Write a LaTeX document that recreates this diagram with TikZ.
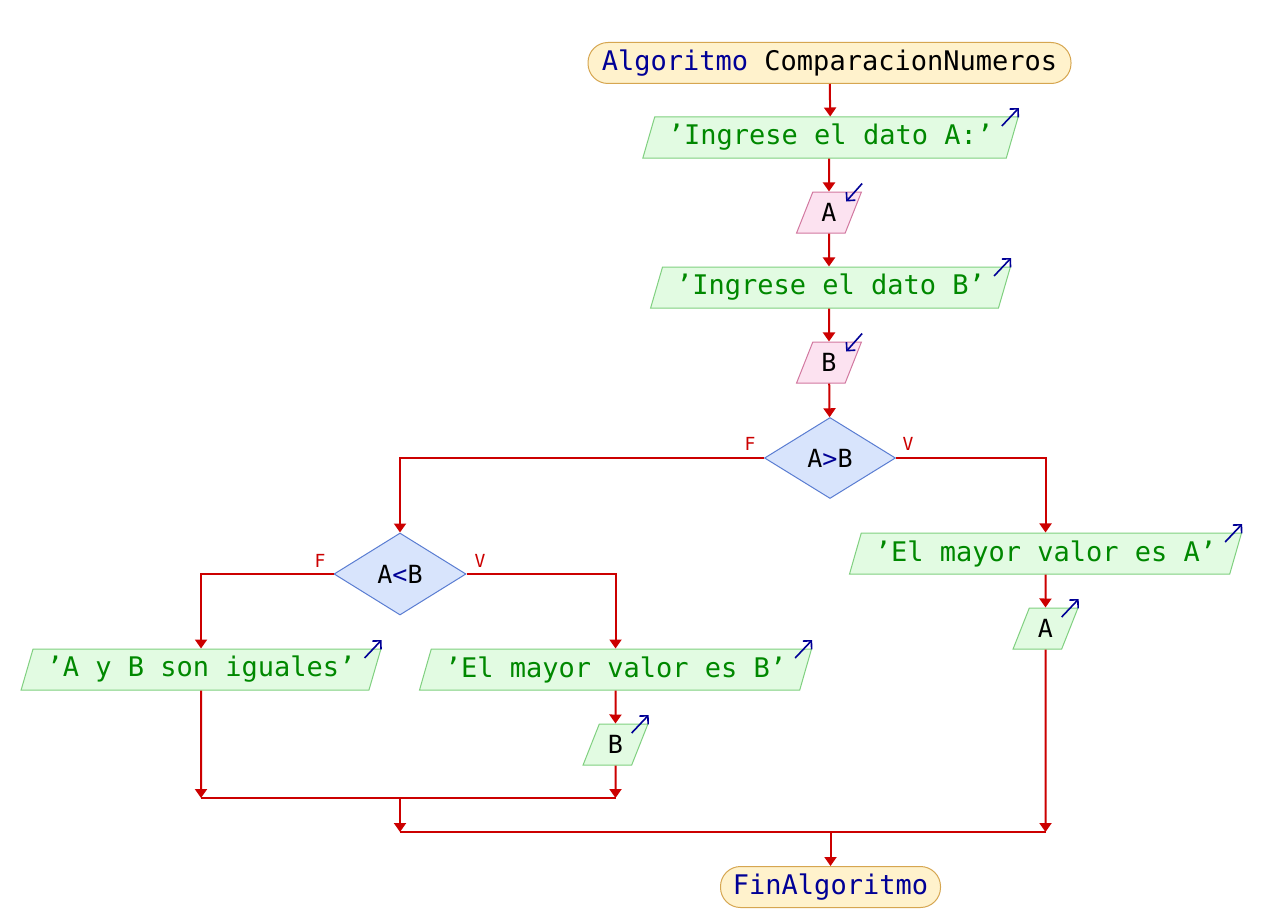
\documentclass[tikz,border=0pt]{standalone}
\usepackage{fontspec}
\newfontfamily\pfont{DejaVu Sans Mono}
\usetikzlibrary{shapes.geometric,arrows.meta}
\definecolor{lred}{RGB}{204,0,0}
\definecolor{kw}{RGB}{0,0,150}
\definecolor{strT}{RGB}{0,136,0}
\definecolor{termF}{RGB}{255,242,204}
\definecolor{termB}{RGB}{214,166,80}
\definecolor{outF}{RGB}{226,251,226}
\definecolor{outB}{RGB}{128,208,128}
\definecolor{inF}{RGB}{252,226,240}
\definecolor{inB}{RGB}{210,120,160}
\definecolor{decF}{RGB}{216,228,252}
\definecolor{decB}{RGB}{90,125,210}
\begin{document}
\begin{tikzpicture}[x=1pt,y=-1pt,
  txt/.style={font=\pfont\fontsize{27}{32}\selectfont},
  vtxt/.style={font=\pfont\fontsize{25}{30}\selectfont},
  flow/.style={draw=lred, line width=2pt, -{Triangle[width=12pt,length=9pt]}},
  plain/.style={draw=lred, line width=2pt},
  term/.style={txt, draw=termB, fill=termF, rounded corners=20pt, minimum height=41pt, inner sep=0pt, line width=1pt},
  para/.style={trapezium, trapezium left angle=67.5, trapezium right angle=112.5, trapezium stretches=true, minimum height=41pt, inner sep=0pt, line width=1pt},
  outbox/.style={para, txt, draw=outB, fill=outF, text=strT},
  outvar/.style={para, vtxt, draw=outB, fill=outF, minimum width=65pt},
  invar/.style={para, vtxt, draw=inB, fill=inF, minimum width=65pt},
  dec/.style={diamond, vtxt, draw=decB, fill=decF, minimum width=131pt, minimum height=81pt, inner sep=0pt, line width=1pt},
  ind/.style={draw=kw, line width=1.6pt, -{Straight Barb[length=6pt,width=12pt]}},
  lab/.style={text=lred, font=\pfont\fontsize{18}{20}\selectfont, inner sep=0pt}
]
\useasboundingbox (0,0) rectangle (1271,923);
\fill[white] (0,0) rectangle (1271,923);

% nodes
\node[term, minimum width=483pt] (start) at (829.5,63) {\textcolor{kw}{Algoritmo} ComparacionNumeros};
\node[outbox, minimum width=377pt] (out1) at (830.5,137.5) {’Ingrese el dato A:’};
\node[invar] (inA) at (829,212.5) {A};
\node[outbox, minimum width=360pt] (out2) at (830.5,287.5) {’Ingrese el dato B’};
\node[invar] (inBv) at (829,362.5) {B};
\node[dec] (d1) at (830,458) {A\textcolor{kw}{>}B};
\node[dec, minimum width=132pt, minimum height=82pt] (d2) at (400,574) {A\textcolor{kw}{<}B};
\node[outbox, minimum width=360pt] (outEq) at (201,669.5) {’A y B son iguales’};
\node[outbox, minimum width=393pt] (outMB) at (615.5,669.5) {’El mayor valor es B’};
\node[outvar] (varB) at (615.5,744.5) {B};
\node[outbox, minimum width=393pt] (outMA) at (1045.5,553.5) {’El mayor valor es A’};
\node[outvar] (varA) at (1045.5,628.5) {A};
\node[term, minimum width=220pt, font=\pfont\fontsize{27}{32}\selectfont\color{kw}] (fin) at (830.5,887) {FinAlgoritmo};

\node[lab] (f1) at (750,444) {F};
\node[lab] (v1) at (908,444) {V};
\node[lab] (f2) at (320,561) {F};
\node[lab] (v2) at (480,561) {V};

\coordinate (j1L) at (201,798);
\coordinate (j1R) at (615.5,798);
\coordinate (j1M) at (400,798);
\coordinate (j2L) at (400,832);
\coordinate (j2R) at (1045.5,832);
\coordinate (j2M) at (830.5,832);

% connectors
\draw[flow] (start) -- (out1);
\draw[flow] (out1.south -| inA) -- (inA);
\draw[flow] (inA) -- (inA |- out2.north);
\draw[flow] (out2.south -| inBv) -- (inBv);
\draw[flow] (inBv) -- (d1);
\draw[flow] (d1.west) -| (d2.north);
\draw[flow] (d1.east) -| (outMA.north);
\draw[flow] (d2.west) -| (outEq.north);
\draw[flow] (d2.east) -| (outMB.north);
\draw[flow] (outMB) -- (varB);
\draw[flow] (outMA) -- (varA);
\draw[flow] (varB) -- (j1R);
\draw[flow] (outEq) -- (j1L);
\draw[plain] (j1L) -- (j1R);
\draw[flow] (j1M) -- (j2L);
\draw[flow] (varA) -- (j2R);
\draw[plain] (j2L) -- (j2R);
\draw[flow] (j2M) -- (fin);

% output / input indicators
\foreach \n in {out1,out2,outEq,outMB,outMA,varB,varA}
  \draw[ind] ([shift={(-17,9.5)}]\n.top right corner) -- ([shift={(0,-8.5)}]\n.top right corner);
\foreach \n in {inA,inBv}
  \draw[ind] ([shift={(0,-8)}]\n.top right corner) -- ([shift={(-16,10)}]\n.top right corner);
\end{tikzpicture}
\end{document}
